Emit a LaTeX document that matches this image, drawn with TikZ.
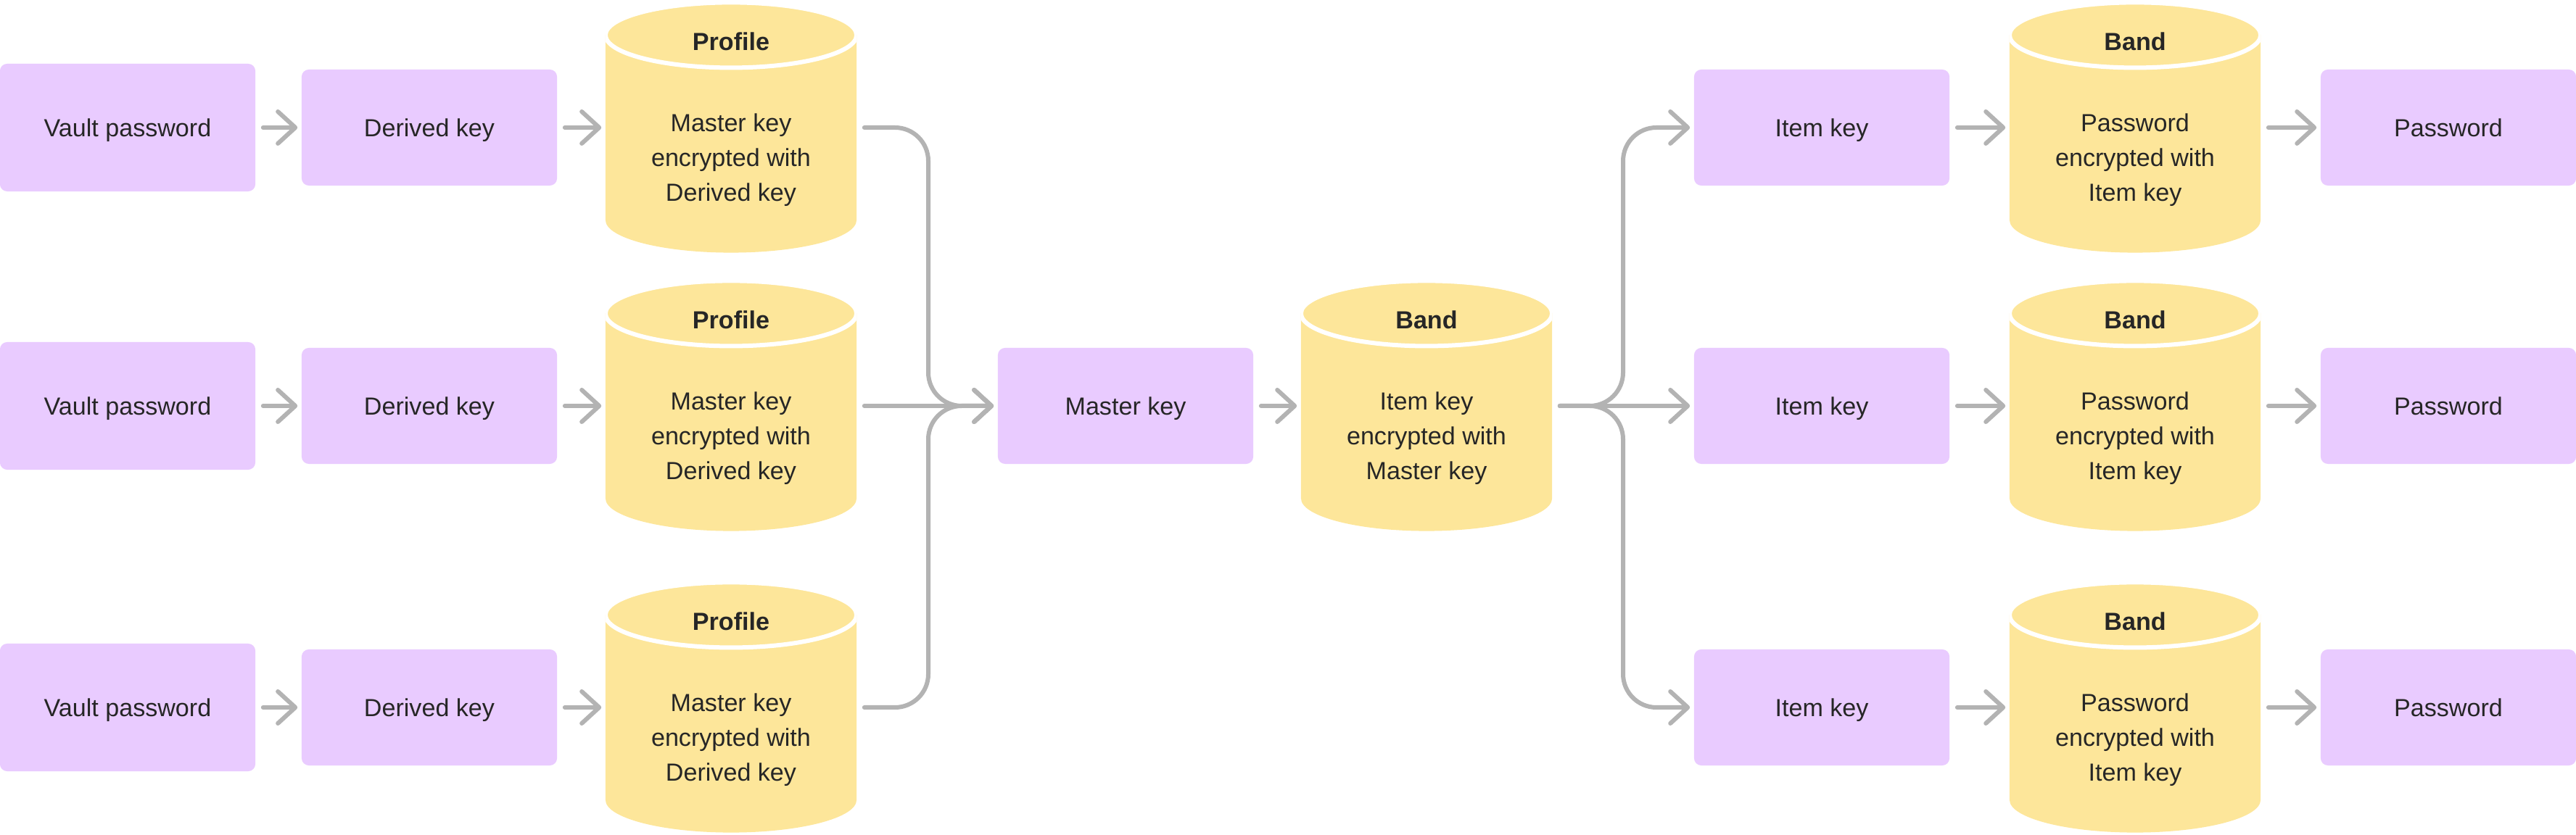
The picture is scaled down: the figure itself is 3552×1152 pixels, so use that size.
\documentclass[tikz,border=0pt]{standalone}
\usepackage{fontspec}
\setmainfont{Liberation Sans}
\usetikzlibrary{arrows.meta}

\definecolor{keyfill}{HTML}{E9CBFF}
\definecolor{storefill}{HTML}{FDE69A}
\definecolor{linegray}{HTML}{B3B3B3}
\definecolor{ink}{HTML}{262626}

\begin{document}
\begin{tikzpicture}[x=0.01cm, y=0.01cm,
  key/.style={fill=keyfill, rounded corners=0.1cm, minimum width=3.52cm,
    minimum height=1.6cm, inner sep=0pt, text=ink, text height=9.2pt, text depth=2pt,
    font={\fontsize{9.7}{13.66}\selectfont}},
  store/.style={minimum width=3.46cm, minimum height=3.45cm, inner sep=0pt,
    path picture={
      \fill[storefill] ([yshift=-0.45cm]path picture bounding box.north west)
        -- ([yshift=0.45cm]path picture bounding box.south west)
        arc[start angle=180, end angle=360, x radius=1.73cm, y radius=0.45cm]
        -- ([yshift=-0.45cm]path picture bounding box.north east)
        arc[start angle=0, end angle=180, x radius=1.73cm, y radius=0.45cm]
        -- cycle;
      \draw[white, line width=0.06cm] ([yshift=-0.45cm]path picture bounding box.north)
        ellipse[x radius=1.73cm, y radius=0.45cm];
    }},
  title/.style={anchor=base, text=ink, font={\bfseries\fontsize{9.7}{13.66}\selectfont}},
  body/.style={align=center, inner sep=0pt, text=ink,
    font={\fontsize{9.7}{13.66}\selectfont}},
  flow/.style={draw=linegray, line width=0.06cm, line cap=round, line join=round,
    -{Straight Barb[length=0.24cm, width=0.44cm, round]},
    shorten <=0.1cm, shorten >=0.05cm, rounded corners=0.46cm}]

  \useasboundingbox (0,0) rectangle (3552,1152);

  % Row heights
  \def\ya{976}
  \def\yb{592}
  \def\yc{176}

  % Left side: vault password -> derived key
  \node[key, minimum height=1.76cm] (v1) at (176,\ya) {Vault password};
  \node[key, minimum height=1.76cm] (v2) at (176,\yb) {Vault password};
  \node[key, minimum height=1.76cm] (v3) at (176,\yc) {Vault password};
  \node[key] (d1) at (592,\ya) {Derived key};
  \node[key] (d2) at (592,\yb) {Derived key};
  \node[key] (d3) at (592,\yc) {Derived key};

  % Profiles
  \node[store] (p1) at (1008,\ya) {};
  \node[store] (p2) at (1008,\yb) {};
  \node[store] (p3) at (1008,\yc) {};
  \node[title] (p1t) at ([yshift=-0.67cm]p1.north) {Profile};
  \node[title] (p2t) at ([yshift=-0.67cm]p2.north) {Profile};
  \node[title] (p3t) at ([yshift=-0.67cm]p3.north) {Profile};
  \node[body] (p1b) at ([yshift=-0.45cm]p1.center) {Master key\\encrypted with\\Derived key};
  \node[body] (p2b) at ([yshift=-0.45cm]p2.center) {Master key\\encrypted with\\Derived key};
  \node[body] (p3b) at ([yshift=-0.45cm]p3.center) {Master key\\encrypted with\\Derived key};

  % Middle: master key and band
  \node[key] (mk) at (1552,\yb) {Master key};
  \node[store] (bc) at (1967,\yb) {};
  \node[title] (bct) at ([yshift=-0.67cm]bc.north) {Band};
  \node[body] (bcb) at ([yshift=-0.45cm]bc.center) {Item key\\encrypted with\\Master key};

  % Right side: item key -> band -> password
  \node[key] (i1) at (2512,\ya) {Item key};
  \node[key] (i2) at (2512,\yb) {Item key};
  \node[key] (i3) at (2512,\yc) {Item key};
  \node[store] (b1) at (2944,\ya) {};
  \node[store] (b2) at (2944,\yb) {};
  \node[store] (b3) at (2944,\yc) {};
  \node[title] (b1t) at ([yshift=-0.67cm]b1.north) {Band};
  \node[title] (b2t) at ([yshift=-0.67cm]b2.north) {Band};
  \node[title] (b3t) at ([yshift=-0.67cm]b3.north) {Band};
  \node[body] (b1b) at ([yshift=-0.45cm]b1.center) {Password\\encrypted with\\Item key};
  \node[body] (b2b) at ([yshift=-0.45cm]b2.center) {Password\\encrypted with\\Item key};
  \node[body] (b3b) at ([yshift=-0.45cm]b3.center) {Password\\encrypted with\\Item key};
  \node[key] (w1) at (3376,\ya) {Password};
  \node[key] (w2) at (3376,\yb) {Password};
  \node[key] (w3) at (3376,\yc) {Password};

  % Junctions
  \coordinate (jl) at (1280,\yb);
  \coordinate (jr) at (2238,\yb);

  % Arrows, left side
  \draw[flow] (v1) -- (d1);
  \draw[flow] (v2) -- (d2);
  \draw[flow] (v3) -- (d3);
  \draw[flow] (d1) -- (p1);
  \draw[flow] (d2) -- (p2);
  \draw[flow] (d3) -- (p3);

  % Profiles merge into master key
  \draw[flow] (p1.east) -| (jl) -- (mk.west);
  \draw[flow] (p2.east) -- (mk.west);
  \draw[flow] (p3.east) -| (jl) -- (mk.west);
  \draw[flow] (mk) -- (bc);

  % Band fans out to item keys
  \draw[flow] (bc.east) -- (jr) |- (i1.west);
  \draw[flow] (bc.east) -- (i2.west);
  \draw[flow] (bc.east) -- (jr) |- (i3.west);

  % Arrows, right side
  \draw[flow] (i1) -- (b1);
  \draw[flow] (i2) -- (b2);
  \draw[flow] (i3) -- (b3);
  \draw[flow] (b1) -- (w1);
  \draw[flow] (b2) -- (w2);
  \draw[flow] (b3) -- (w3);
\end{tikzpicture}
\end{document}
